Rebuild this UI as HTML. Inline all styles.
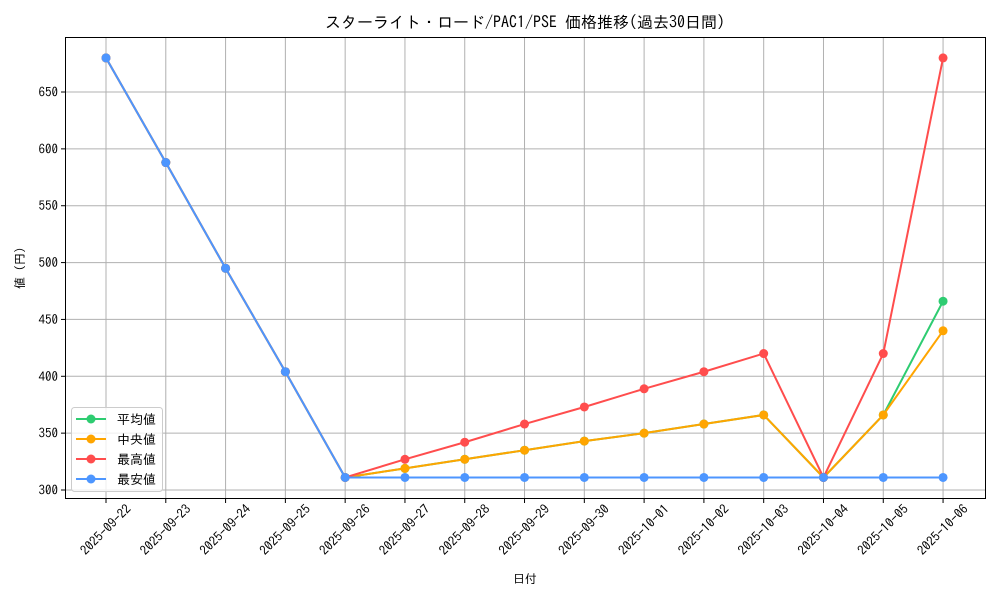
<!DOCTYPE html>
<html><head><meta charset="utf-8"><style>
body{margin:0;background:#fff}
svg text{font-family:"IPAGothic","Noto Sans CJK JP",sans-serif;fill:#000}
</style></head><body>
<svg id="s" width="1000" height="600" xmlns="http://www.w3.org/2000/svg">
<rect width="1000" height="600" fill="#fff"/>
<text x="525" y="28" font-size="16" text-anchor="middle">スターライト・ロード/PAC1/PSE 価格推移(過去30日間)</text>
<g id="grid"></g>
<g id="series"></g>
<rect x="65.5" y="37.5" width="920" height="461" fill="none" stroke="#000" stroke-width="1"/>
<g id="ticks"></g>
<text x="525" y="583" font-size="12" text-anchor="middle">日付</text>
<text transform="translate(24,268) rotate(-90)" font-size="12" text-anchor="middle">値 (円)</text>
<g>
<rect x="71.5" y="407.5" width="91" height="84" rx="3" fill="#fff" fill-opacity="0.8" stroke="#ccc"/>
<line x1="76" y1="419" x2="106" y2="419" stroke="#2ecc71" stroke-width="2"/><circle cx="91" cy="419" r="4.5" fill="#2ecc71"/><text x="117" y="424" font-size="13">平均値</text>
<line x1="76" y1="439" x2="106" y2="439" stroke="#ffa500" stroke-width="2"/><circle cx="91" cy="439" r="4.5" fill="#ffa500"/><text x="117" y="444" font-size="13">中央値</text>
<line x1="76" y1="459" x2="106" y2="459" stroke="#ff4d4d" stroke-width="2"/><circle cx="91" cy="459" r="4.5" fill="#ff4d4d"/><text x="117" y="464" font-size="13">最高値</text>
<line x1="76" y1="479" x2="106" y2="479" stroke="#4d96ff" stroke-width="2"/><circle cx="91" cy="479" r="4.5" fill="#4d96ff"/><text x="117" y="484" font-size="13">最安値</text>
</g>
</svg>
<script>
var NS="http://www.w3.org/2000/svg";
function el(p,t,a,txt){var e=document.createElementNS(NS,t);for(var k in a)e.setAttribute(k,a[k]);if(txt)e.textContent=txt;document.getElementById(p).appendChild(e);}
function X(i){return 106+59.79*i}
function Y(v){return 490-(v-300)*1.1371}
var dates=["2025-09-22","2025-09-23","2025-09-24","2025-09-25","2025-09-26","2025-09-27","2025-09-28","2025-09-29","2025-09-30","2025-10-01","2025-10-02","2025-10-03","2025-10-04","2025-10-05","2025-10-06"];
for(var i=0;i<15;i++){var x=X(i);
el("grid","line",{x1:x,y1:37.5,x2:x,y2:498.5,stroke:"#b0b0b0","stroke-width":1});
el("ticks","line",{x1:x,y1:498.5,x2:x,y2:503,stroke:"#000"});
el("ticks","text",{x:x,y:534,"font-size":13,"text-anchor":"middle",transform:"rotate(-45 "+x+" 530)"},dates[i]);}
for(var v=300;v<=650;v+=50){var y=Y(v);
el("grid","line",{x1:65.5,y1:y,x2:985.5,y2:y,stroke:"#b0b0b0","stroke-width":1});
el("ticks","line",{x1:61,y1:y,x2:65.5,y2:y,stroke:"#000"});
el("ticks","text",{x:58,y:y+4.5,"font-size":13,"text-anchor":"end"},v);}
var S=[["#2ecc71",[680,588,495,404,311,319,327,335,343,350,358,366,311,366,466]],
["#ffa500",[680,588,495,404,311,319,327,335,343,350,358,366,311,366,440]],
["#ff4d4d",[680,588,495,404,311,327,342,358,373,389,404,420,311,420,680]],
["#4d96ff",[680,588,495,404,311,311,311,311,311,311,311,311,311,311,311]]];
S.forEach(function(s){var p=s[1].map(function(v,i){return X(i)+","+Y(v)}).join(" ");
el("series","polyline",{points:p,fill:"none",stroke:s[0],"stroke-width":2});
s[1].forEach(function(v,i){el("series","circle",{cx:X(i),cy:Y(v),r:4.5,fill:s[0]})});});
</script>
</body></html>
